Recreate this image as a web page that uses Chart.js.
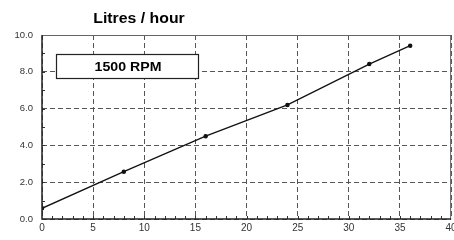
<!DOCTYPE html>
<html>
<head>
<meta charset="utf-8">
<script src="https://cdn.jsdelivr.net/npm/chart.js@4/dist/chart.umd.min.js"></script>
<style>
html,body{margin:0;padding:0;background:#fff;}
#wrap{width:454px;height:240px;position:relative;}
</style>
</head>
<body>
<div id="wrap"><canvas id="c" width="454" height="240"></canvas></div>
<script>
const titleText = "Litres / hour";
const seriesLabel = "1500 RPM";
const xValues = [0, 8, 16, 24, 32, 36];
const yValues = [0.58, 2.57, 4.5, 6.2, 8.42, 9.42];
const xTickStep = 5;
const yTickStep = 2;

const decor = {
  id: 'decor',
  afterDraw(chart) {
    const ctx = chart.ctx;
    const a = chart.chartArea;
    const xs = chart.scales.x, ys = chart.scales.y;
    ctx.save();
    // minor ticks
    ctx.strokeStyle = '#333';
    ctx.lineWidth = 1;
    ctx.beginPath();
    for (let v = 1; v < 40; v++) {
      const px = Math.round(xs.getPixelForValue(v)) + 0.5;
      ctx.moveTo(px, a.bottom);
      ctx.lineTo(px, a.bottom - 3);
    }
    for (let v = 1; v < 10; v++) {
      const py = Math.round(ys.getPixelForValue(v)) + 0.5;
      ctx.moveTo(a.left, py);
      ctx.lineTo(a.left + 3, py);
    }
    ctx.stroke();
    // border
    ctx.strokeStyle = '#666';
    ctx.lineWidth = 1;
    ctx.beginPath();
    ctx.moveTo(a.left, a.top + 0.5);
    ctx.lineTo(a.right - 0.5, a.top + 0.5);
    ctx.lineTo(a.right - 0.5, a.bottom);
    ctx.stroke();
    ctx.strokeStyle = '#222';
    ctx.lineWidth = 1.5;
    ctx.beginPath();
    ctx.moveTo(a.left, a.top);
    ctx.lineTo(a.left, a.bottom);
    ctx.lineTo(a.right, a.bottom);
    ctx.stroke();
    // legend box
    ctx.fillStyle = '#fff';
    ctx.fillRect(56, 54, 142, 24);
    ctx.strokeStyle = '#222';
    ctx.lineWidth = 1.2;
    ctx.strokeRect(56.5, 54.5, 142, 24);
    ctx.fillStyle = '#000';
    ctx.font = 'bold 12px "Liberation Sans", Arial, sans-serif';
    ctx.textAlign = 'center';
    ctx.textBaseline = 'alphabetic';
    ctx.save();
    ctx.translate(128, 70.5);
    ctx.scale(1.18, 1);
    ctx.fillText(seriesLabel, 0, 0);
    ctx.restore();
    // title
    ctx.font = 'bold 14px "Liberation Sans", Arial, sans-serif';
    ctx.save();
    ctx.translate(139, 23);
    ctx.scale(1.13, 1);
    ctx.fillText(titleText, 0, 0);
    ctx.restore();
    ctx.restore();
  }
};

new Chart(document.getElementById('c'), {
  type: 'line',
  data: {
    datasets: [{
      label: seriesLabel,
      data: xValues.map((x, i) => ({x: x, y: yValues[i]})),
      borderColor: '#111',
      backgroundColor: '#111',
      borderWidth: 1.3,
      pointRadius: 1.6,
      pointHoverRadius: 1.6,
      tension: 0,
      fill: false
    }]
  },
  options: {
    responsive: false,
    animation: false,
    devicePixelRatio: 1,
    layout: { padding: { top: 35, left: 0, right: 2.5, bottom: 0 } },
    plugins: { legend: { display: false }, tooltip: { enabled: false }, title: { display: false } },
    scales: {
      x: {
        type: 'linear', min: 0, max: 40,
        ticks: { stepSize: xTickStep, color: '#333', font: { family: '"Liberation Sans", Arial, sans-serif', size: 10 }, padding: 3, maxRotation: 0 },
        grid: { color: '#555', lineWidth: 1, drawTicks: false },
        border: { display: false, dash: [5, 3] },
        afterFit(s) { s.height = 21; s.paddingLeft = 0; s.paddingRight = 0; }
      },
      y: {
        min: 0, max: 10,
        ticks: { stepSize: yTickStep, color: '#333', font: { family: '"Liberation Sans", Arial, sans-serif', size: 9.5 }, padding: 9, callback: v => Number(v).toFixed(1) },
        grid: { color: '#555', lineWidth: 1, drawTicks: false },
        border: { display: false, dash: [5, 3] },
        afterFit(s) { s.width = 42; s.paddingTop = 0; s.paddingBottom = 0; }
      }
    }
  },
  plugins: [decor]
});
</script>
</body>
</html>
